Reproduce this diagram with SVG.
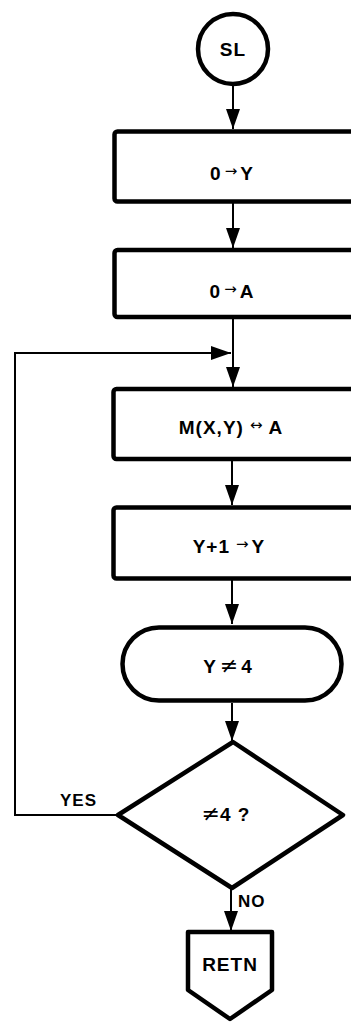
<svg xmlns="http://www.w3.org/2000/svg" width="351" height="1023" viewBox="0 0 351 1023">
<defs>
<style>
.n{fill:#fff;stroke:#000;stroke-width:4.5;stroke-linejoin:round}
.c{fill:none;stroke:#000;stroke-width:2}
.t{font-family:"Liberation Sans",Arial,sans-serif;font-weight:bold;font-size:19px;letter-spacing:1px;fill:#000;text-anchor:middle}
.l{font-family:"Liberation Sans",Arial,sans-serif;font-weight:bold;font-size:17px;letter-spacing:1px;fill:#000}
.s{font-family:"DejaVu Sans",sans-serif;font-weight:normal;font-size:15px;letter-spacing:0}
.ne{font-family:"DejaVu Sans",sans-serif;font-weight:normal;font-size:22px;letter-spacing:0}
</style>
<marker id="ah" viewBox="0 0 20 14" refX="20" refY="7" markerWidth="20" markerHeight="14" markerUnits="userSpaceOnUse" orient="auto">
<path d="M0,0 L20,7 L0,14 Z" fill="#000"/>
</marker>
</defs>
<rect width="351" height="1023" fill="#fff"/>
<g id="connectors">
<line class="c" x1="233" y1="85" x2="233" y2="129" marker-end="url(#ah)"/>
<line class="c" x1="233" y1="203" x2="233" y2="248" marker-end="url(#ah)"/>
<line class="c" x1="233" y1="319" x2="233" y2="387" marker-end="url(#ah)"/>
<line class="c" x1="232" y1="461" x2="232" y2="505" marker-end="url(#ah)"/>
<line class="c" x1="232" y1="580" x2="232" y2="624" marker-end="url(#ah)"/>
<line class="c" x1="232" y1="703" x2="232" y2="741" marker-end="url(#ah)"/>
<line class="c" x1="231" y1="888" x2="231" y2="931" marker-end="url(#ah)"/>
<path class="c" d="M118,815 H15 V353 H231" marker-end="url(#ah)"/>
<text class="l" x="60" y="806">YES</text>
<text class="l" x="238" y="907">NO</text>
</g>
<g id="start">
<circle class="n" cx="233" cy="49" r="35"/>
<text class="t" x="233" y="56">SL</text>
</g>
<g id="zeroY">
<rect class="n" x="114.5" y="131.5" width="245" height="70" rx="3"/>
<text class="t" x="232" y="180">0<tspan class="s" dx="3" dy="-4">→</tspan><tspan dx="3" dy="4">Y</tspan></text>
</g>
<g id="zeroA">
<rect class="n" x="114.5" y="250" width="245" height="67" rx="3"/>
<text class="t" x="232" y="298">0<tspan class="s" dx="3" dy="-4">→</tspan><tspan dx="3" dy="4">A</tspan></text>
</g>
<g id="swap">
<rect class="n" x="113.5" y="389" width="245" height="70" rx="3"/>
<text class="t" x="231" y="434">M(X,Y)<tspan class="s" dx="6" dy="-4">↔</tspan><tspan dx="6" dy="4">A</tspan></text>
</g>
<g id="incY">
<rect class="n" x="113.5" y="507.5" width="245" height="71" rx="3"/>
<text class="t" x="229" y="553">Y+1<tspan class="s" dx="6" dy="-4">→</tspan><tspan dx="3" dy="4">Y</tspan></text>
</g>
<g id="test">
<rect class="n" x="122.5" y="627.5" width="219" height="73" rx="36.5"/>
<text class="t" x="228" y="673">Y<tspan class="ne" dx="3">≠</tspan><tspan dx="3">4</tspan></text>
</g>
<g id="decision">
<polygon class="n" points="233,742 343,815 232,888 118,815"/>
<text class="t" x="226" y="821"><tspan class="ne">≠</tspan>4 ?</text>
</g>
<g id="retn">
<polygon class="n" points="188,932 272,932 272,990 230,1019 188,990"/>
<text class="t" x="230" y="971">RETN</text>
</g>
</svg>
